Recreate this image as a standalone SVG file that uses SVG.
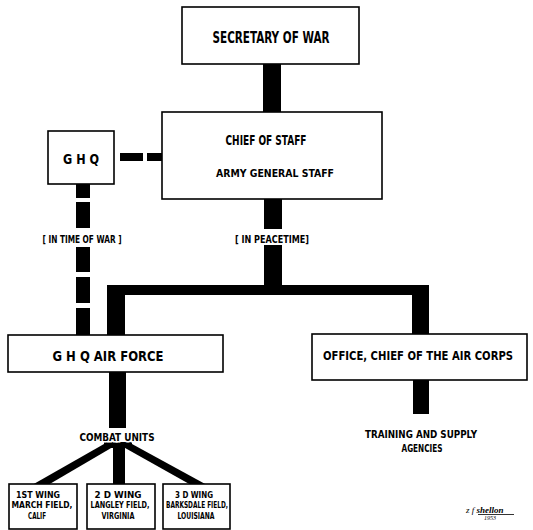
<svg xmlns="http://www.w3.org/2000/svg" width="533" height="530" viewBox="0 0 533 530">
<style>
.box{fill:#fff;stroke:#000;stroke-width:1.6}
.t{font-family:"DejaVu Sans Condensed","Liberation Sans",sans-serif;font-weight:bold;fill:#000}
.bar{fill:#000}
.sig{font-family:"Liberation Serif",serif;font-style:italic;fill:#000}
</style>
<rect width="533" height="530" fill="#fff"/>
<g id="connectors">
  <rect class="bar" x="263" y="64" width="18" height="48"/>
  <rect class="bar" x="264" y="199" width="18" height="30"/>
  <rect class="bar" x="264" y="245" width="18" height="45"/>
  <rect class="bar" x="107" y="285" width="322" height="10"/>
  <rect class="bar" x="107" y="285" width="18" height="50"/>
  <rect class="bar" x="412" y="285" width="17" height="49"/>
  <rect class="bar" x="120" y="153" width="23" height="8"/>
  <rect class="bar" x="147" y="153" width="15" height="8"/>
  <rect class="bar" x="76" y="184" width="14" height="14"/>
  <rect class="bar" x="76" y="202" width="14" height="26"/>
  <rect class="bar" x="76" y="247" width="14" height="25"/>
  <rect class="bar" x="76" y="277" width="14" height="26"/>
  <rect class="bar" x="76" y="308" width="14" height="27"/>
  <rect class="bar" x="413" y="380" width="16" height="34"/>
  <rect class="bar" x="109" y="372" width="17" height="56"/>
  <polygon class="bar" points="104,444 118,444 48,485 32,485"/>
  <rect class="bar" x="113" y="443" width="12" height="42"/>
  <polygon class="bar" points="118,444 132,444 207,485 191,485"/>
  <rect class="bar" x="104" y="442" width="28" height="6"/>
  <text class="t" x="117" y="441" font-size="10" text-anchor="middle" textLength="75" lengthAdjust="spacingAndGlyphs" stroke="#fff" stroke-width="3" paint-order="stroke">COMBAT  UNITS</text>
</g>
<g id="secretary">
  <rect class="box" x="182" y="7" width="177" height="57"/>
  <text class="t" x="271" y="43" font-size="15" text-anchor="middle" textLength="117" lengthAdjust="spacingAndGlyphs">SECRETARY OF WAR</text>
</g>
<g id="chief">
  <rect class="box" x="162" y="112" width="220" height="87"/>
  <text class="t" x="266" y="145" font-size="14" text-anchor="middle" textLength="81" lengthAdjust="spacingAndGlyphs">CHIEF OF STAFF</text>
  <text class="t" x="275" y="177" font-size="10.5" text-anchor="middle" textLength="118" lengthAdjust="spacingAndGlyphs">ARMY GENERAL STAFF</text>
</g>
<g id="ghq">
  <rect class="box" x="48" y="131" width="66" height="53"/>
  <text class="t" x="81" y="164" font-size="14" text-anchor="middle" textLength="36" lengthAdjust="spacingAndGlyphs">G H Q</text>
</g>
<g id="labels">
  <text class="t" x="82" y="243" font-size="10" text-anchor="middle" textLength="79" lengthAdjust="spacingAndGlyphs">[ IN TIME OF WAR ]</text>
  <text class="t" x="272" y="243" font-size="10" text-anchor="middle" textLength="74" lengthAdjust="spacingAndGlyphs">[ IN PEACETIME]</text>
</g>
<g id="ghq-air-force">
  <rect class="box" x="8" y="335" width="215" height="37"/>
  <text class="t" x="108" y="361" font-size="14" text-anchor="middle" textLength="111" lengthAdjust="spacingAndGlyphs">G H Q  AIR FORCE</text>
</g>
<g id="office">
  <rect class="box" x="312" y="334" width="215" height="46"/>
  <text class="t" x="418" y="360" font-size="11.5" text-anchor="middle" textLength="190" lengthAdjust="spacingAndGlyphs">OFFICE, CHIEF OF THE AIR CORPS</text>
</g>
<g id="training">
  <text class="t" x="421" y="438" font-size="10" text-anchor="middle" textLength="112" lengthAdjust="spacingAndGlyphs">TRAINING AND SUPPLY</text>
  <text class="t" x="422" y="452" font-size="10" text-anchor="middle" textLength="41" lengthAdjust="spacingAndGlyphs">AGENCIES</text>
</g>
<g id="wing1">
  <rect class="box" x="9" y="484" width="68" height="45"/>
  <text class="t" x="38" y="498" font-size="9.5" text-anchor="middle" textLength="44" lengthAdjust="spacingAndGlyphs">1ST  WING</text>
  <text class="t" x="42" y="508" font-size="9.5" text-anchor="middle" textLength="61" lengthAdjust="spacingAndGlyphs">MARCH  FIELD,</text>
  <text class="t" x="37" y="519" font-size="9.5" text-anchor="middle" textLength="18" lengthAdjust="spacingAndGlyphs">CALIF</text>
</g>
<g id="wing2">
  <rect class="box" x="87" y="484" width="68" height="45"/>
  <text class="t" x="118" y="498" font-size="9.5" text-anchor="middle" textLength="47" lengthAdjust="spacingAndGlyphs">2 D   WING</text>
  <text class="t" x="120" y="508" font-size="9.5" text-anchor="middle" textLength="59" lengthAdjust="spacingAndGlyphs">LANGLEY FIELD,</text>
  <text class="t" x="118" y="519" font-size="9.5" text-anchor="middle" textLength="33" lengthAdjust="spacingAndGlyphs">VIRGINIA</text>
</g>
<g id="wing3">
  <rect class="box" x="163" y="484" width="67" height="45"/>
  <text class="t" x="194" y="498" font-size="9.5" text-anchor="middle" textLength="38" lengthAdjust="spacingAndGlyphs">3 D   WING</text>
  <text class="t" x="197" y="508" font-size="9.5" text-anchor="middle" textLength="62" lengthAdjust="spacingAndGlyphs">BARKSDALE FIELD,</text>
  <text class="t" x="196" y="519" font-size="9.5" text-anchor="middle" textLength="37" lengthAdjust="spacingAndGlyphs">LOUISIANA</text>
</g>
<g id="signature">
  <text class="sig" x="466" y="513" font-size="9">z f <tspan font-weight="bold">shellon</tspan></text>
  <line x1="478" y1="514.5" x2="514" y2="514.5" stroke="#000" stroke-width="0.8"/>
  <text class="sig" x="484" y="520" font-size="6">1953</text>
</g>
</svg>
